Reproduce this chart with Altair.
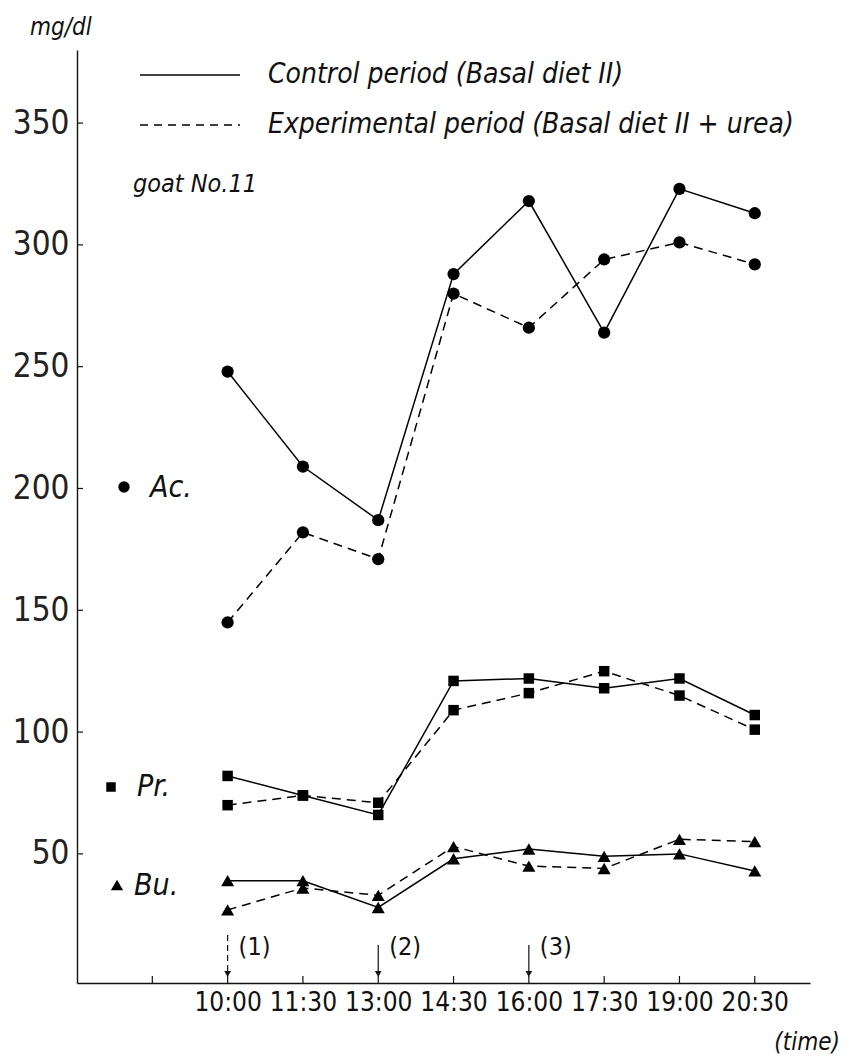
import altair as alt
import pandas as pd

# ---- data ----
times = ["10:00", "11:30", "13:00", "14:30", "16:00", "17:30", "19:00", "20:30"]
hours = [10.0, 11.5, 13.0, 14.5, 16.0, 17.5, 19.0, 20.5]

ac_control = [248, 209, 187, 288, 318, 264, 323, 313]
ac_exper = [145, 182, 171, 280, 266, 294, 301, 292]
pr_control = [82, 74, 66, 121, 122, 118, 122, 107]
pr_exper = [70, 74, 71, 109, 116, 125, 115, 101]
bu_control = [39, 39, 28, 48, 52, 49, 50, 43]
bu_exper = [27, 36, 33, 53, 45, 44, 56, 55]

y_ticks = [50, 100, 150, 200, 250, 300, 350]
x_ticks = [8.5] + hours
arrow_hours = [10.0, 13.0, 16.0]
arrow_labels = ["(1)", "(2)", "(3)"]
arrow_dashed = [True, False, False]

FONT = "DejaVu Sans Condensed, DejaVu Sans, sans-serif"
W, H = 733, 933

rows = []
for name, ctrl, exp in [
    ("Ac.", ac_control, ac_exper),
    ("Pr.", pr_control, pr_exper),
    ("Bu.", bu_control, bu_exper),
]:
    for h, t, v in zip(hours, times, ctrl):
        rows.append({"hour": h, "time": t, "value": v, "acid": name,
                     "period": "Control", "grp": name + " control"})
    for h, t, v in zip(hours, times, exp):
        rows.append({"hour": h, "time": t, "value": v, "acid": name,
                     "period": "Experimental", "grp": name + " exp"})
df = pd.DataFrame(rows)

xscale = alt.Scale(domain=[7, 21.6], nice=False, zero=False)
yscale = alt.Scale(domain=[-3, 380], nice=False, zero=False)

x_axis = alt.Axis(
    values=x_ticks, title=None, grid=False, ticks=False,
    labelExpr="datum.value < 9 ? '' : floor(datum.value) + ':' + (datum.value % 1 > 0 ? '30' : '00')",
    labelFont=FONT, labelFontSize=26, labelColor="#111", labelPadding=6,
    domainColor="#111", domainWidth=1.6, labelFlush=False,
)
y_axis = alt.Axis(
    values=y_ticks, title=None, grid=False, ticks=False,
    labelFont=FONT, labelFontSize=33, labelFontWeight=300, labelColor="#222", labelPadding=8,
    domainColor="#111", domainWidth=1.4,
)

base = alt.Chart(df).encode(
    x=alt.X("hour:Q", scale=xscale, axis=x_axis),
    y=alt.Y("value:Q", scale=yscale, axis=y_axis),
    detail="grp:N",
)

lines_c = base.mark_line(color="black", strokeWidth=1.5).transform_filter(
    alt.datum.period == "Control")
lines_e = base.mark_line(color="black", strokeWidth=1.5, strokeDash=[9, 6]).transform_filter(
    alt.datum.period == "Experimental")

marker_layers = []
for name, shape, size in [("Ac.", "circle", 150), ("Pr.", "square", 110), ("Bu.", "triangle-up", 170)]:
    marker_layers.append(
        base.transform_filter(alt.datum.acid == name).mark_point(
            filled=True, color="black", opacity=1, shape=shape, size=size)
    )

# inward tick marks
ytick_df = pd.DataFrame({"v": y_ticks})
yticks = alt.Chart(ytick_df).mark_rule(color="#111", strokeWidth=1.2).encode(
    y=alt.Y("v:Q", scale=yscale), x=alt.value(0), x2=alt.value(6)
)
xtick_df = pd.DataFrame({"h": x_ticks})
xticks = alt.Chart(xtick_df).mark_rule(color="#111", strokeWidth=1.2).encode(
    x=alt.X("h:Q", scale=xscale), y=alt.value(H - 7), y2=alt.value(H)
)

# event arrows
arr_df = pd.DataFrame({"h": arrow_hours, "lab": arrow_labels, "dashed": arrow_dashed})
arrow_dash = alt.Chart(arr_df).transform_filter("datum.dashed").mark_rule(
    color="#111", strokeWidth=1.2, strokeDash=[6, 4]).encode(
    x=alt.X("h:Q", scale=xscale), y=alt.value(885), y2=alt.value(922)
)
arrow_solid = alt.Chart(arr_df).transform_filter("!datum.dashed").mark_rule(
    color="#111", strokeWidth=1.2).encode(
    x=alt.X("h:Q", scale=xscale), y=alt.value(895), y2=alt.value(922)
)
arrow_heads = alt.Chart(arr_df).mark_point(shape="triangle-down", filled=True, color="#111",
                                           size=45, opacity=1).encode(
    x=alt.X("h:Q", scale=xscale), y=alt.value(924)
)
arrow_text = alt.Chart(arr_df).mark_text(font=FONT, fontSize=25, align="left",
                                         baseline="middle", color="#111", dx=11).encode(
    x=alt.X("h:Q", scale=xscale), y=alt.value(897), text="lab:N"
)


def txt(s, x, y, size=26, italic=True, align="left"):
    return alt.Chart(pd.DataFrame({"t": [s]})).mark_text(
        font=FONT, fontSize=size, fontStyle="italic" if italic else "normal",
        align=align, baseline="middle", color="#111",
    ).encode(x=alt.value(x), y=alt.value(y), text="t:N")


ox, oy = 77, 50
annots = [
    txt("mg/dl", 30 - ox, 28 - oy, 24),
    txt("Control period (Basal diet II)", 268 - ox, 75 - oy, 28),
    txt("Experimental period (Basal diet II + urea)", 268 - ox, 125 - oy, 28),
    txt("goat No.11", 133 - ox, 184 - oy, 25),
    txt("Ac.", 150 - ox, 488 - oy, 30),
    txt("Pr.", 137 - ox, 787 - oy, 30),
    txt("Bu.", 134 - ox, 886 - oy, 30),
    txt("(time)", 840 - ox, 1043 - oy, 24, align="right"),
]

leg_solid = alt.Chart(pd.DataFrame({"a": [0]})).mark_rule(color="black", strokeWidth=1.4).encode(
    x=alt.value(140 - ox), x2=alt.value(240 - ox), y=alt.value(75 - oy)
)
leg_dash = alt.Chart(pd.DataFrame({"a": [0]})).mark_rule(color="black", strokeWidth=1.4,
                                                         strokeDash=[8, 6]).encode(
    x=alt.value(140 - ox), x2=alt.value(240 - ox), y=alt.value(125 - oy)
)


def sym(shape, x, y, size):
    return alt.Chart(pd.DataFrame({"a": [0]})).mark_point(
        shape=shape, filled=True, color="black", opacity=1, size=size
    ).encode(x=alt.value(x), y=alt.value(y))


syms = [
    sym("circle", 124 - ox, 487 - oy, 130),
    sym("square", 111 - ox, 787 - oy, 90),
    sym("triangle-up", 117 - ox, 885 - oy, 150),
]

chart = alt.layer(
    lines_c, lines_e, *marker_layers, yticks, xticks, arrow_dash, arrow_solid, arrow_heads, arrow_text,
    leg_solid, leg_dash, *syms, *annots,
).properties(
    width=W, height=H,
    background="white",
    autosize=alt.AutoSizeParams(type="none"),
    padding={"left": ox, "top": oy, "right": 849 - ox - W, "bottom": 1057 - oy - H},
).configure_view(stroke=None)

chart.save("out.html", embed_options={"renderer": "svg", "actions": False})
